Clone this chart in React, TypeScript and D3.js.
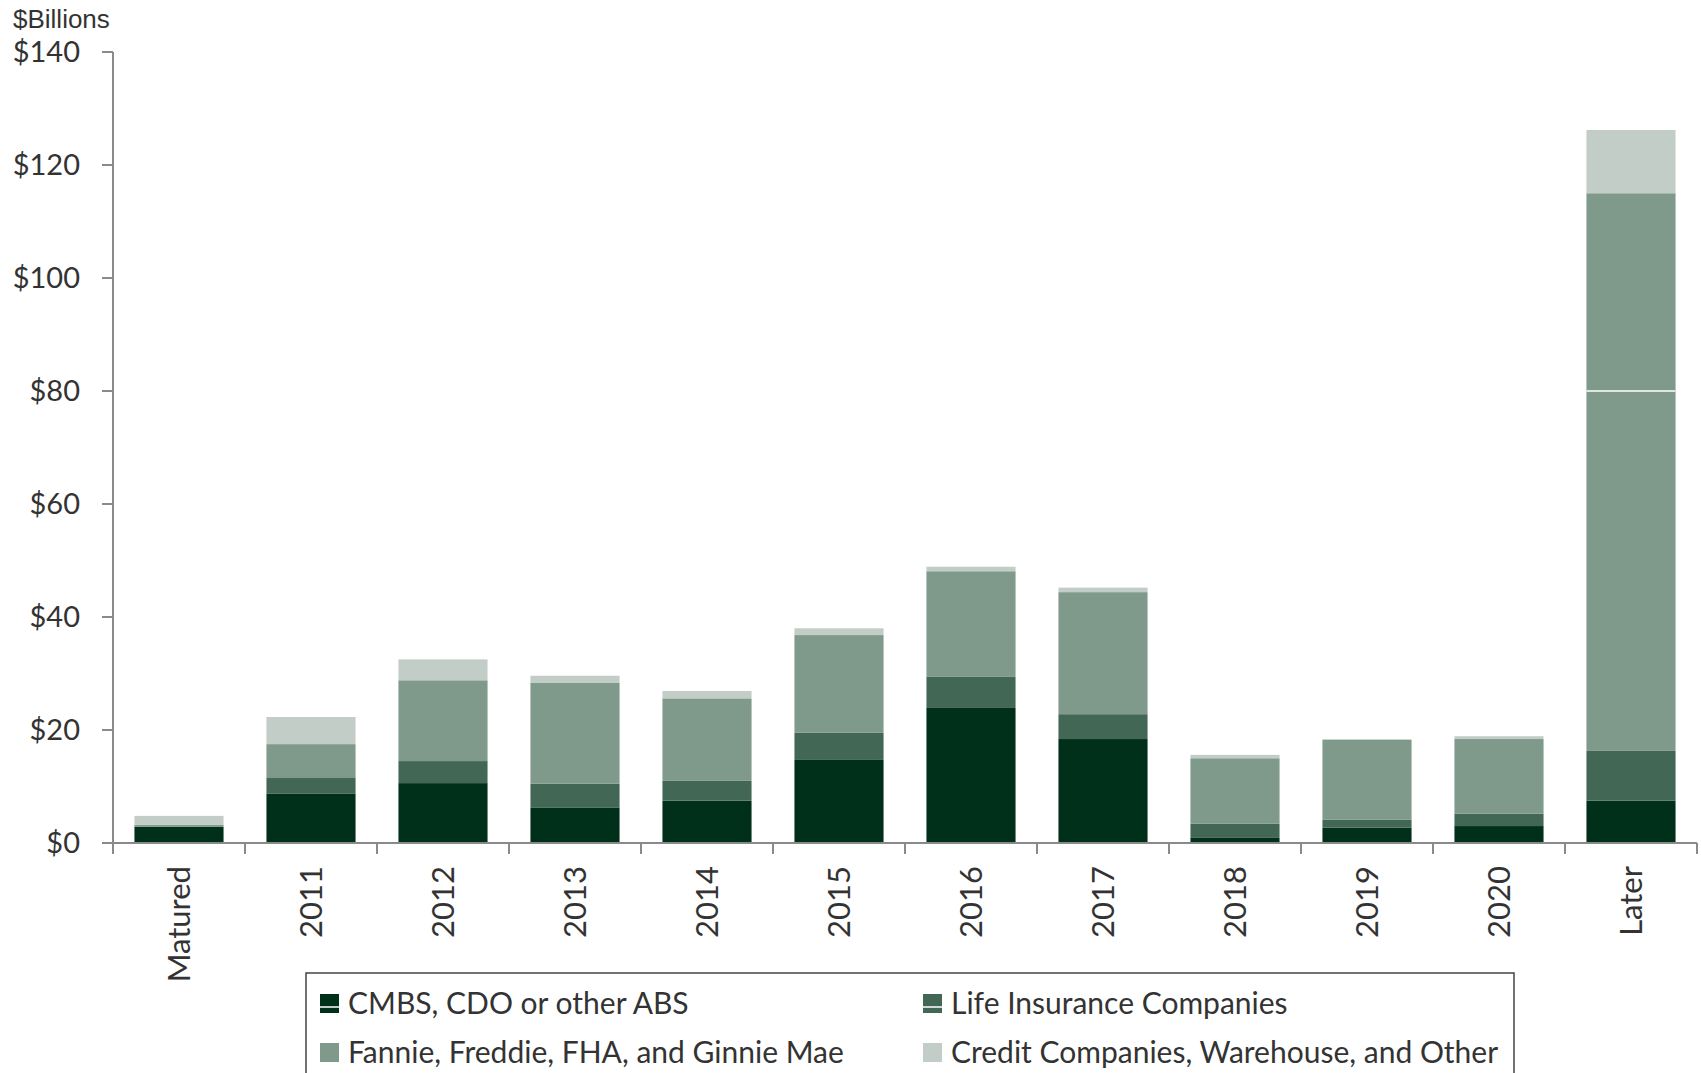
import React from "react";
import * as d3 from "d3";

const categories = ["Matured", "2011", "2012", "2013", "2014", "2015", "2016", "2017", "2018", "2019", "2020", "Later"];
const cmbs = [2.9, 8.7, 10.6, 6.3, 7.5, 14.7, 23.9, 18.4, 0.9, 2.7, 3.0, 7.5];
const lifeIns = [0.0, 2.8, 3.9, 4.2, 3.5, 4.8, 5.5, 4.4, 2.5, 1.4, 2.2, 8.8];
const fannie = [0.3, 6.0, 14.3, 17.9, 14.6, 17.3, 18.7, 21.6, 11.6, 14.2, 13.2, 98.7];
const credit = [1.6, 4.8, 3.7, 1.2, 1.3, 1.2, 0.8, 0.8, 0.6, 0.0, 0.5, 11.2];
const yTicks = [0, 20, 40, 60, 80, 100, 120, 140];
const seriesNames = ["CMBS, CDO or other ABS", "Life Insurance Companies", "Fannie, Freddie, FHA, and Ginnie Mae", "Credit Companies, Warehouse, and Other"];
const seriesColors = ["#01301a", "#436755", "#7f998a", "#c3cdc7"];

export default function App() {
  const W = 1701, H = 1073;
  const x = d3.scaleBand<string>().domain(categories).range([113, 1697]).paddingInner(0.325).paddingOuter(0.1625);
  const y = d3.scaleLinear().domain([0, 140]).range([843, 52]);
  const rows = categories.map((c, i) => ({ cat: c, s0: cmbs[i], s1: lifeIns[i], s2: fannie[i], s3: credit[i] }));
  const stack = d3.stack<any>().keys(["s0", "s1", "s2", "s3"])(rows);
  const step = x.step();
  const axisColor = "#8a8a8a";
  const font = "Lato, 'Open Sans', sans-serif";
  const later = categories[categories.length - 1];
  return (
    <svg width={W} height={H} style={{ position: "absolute", left: 0, top: 0, background: "#fff" }}>
      <text x={13} y={28} fontFamily="'Liberation Sans', Arial, sans-serif" fontSize={26} fill="#333">$Billions</text>
      {stack.map((layer, si) => (
        <g key={si} fill={seriesColors[si]}>
          {layer.map((d, i) => {
            const h = y(d[0]) - y(d[1]);
            if (h <= 0) return null;
            return <rect key={i} x={x(categories[i])} y={y(d[1])} width={x.bandwidth()} height={h} />;
          })}
        </g>
      ))}
      <line x1={x(later)} x2={(x(later) as number) + x.bandwidth()} y1={y(80)} y2={y(80)} stroke="#fff" strokeWidth={1.5} />
      {/* y axis */}
      <line x1={113} x2={113} y1={y(140)} y2={y(0) + 11} stroke={axisColor} strokeWidth={2} />
      {yTicks.map((t) => (
        <g key={t}>
          <line x1={102} x2={113} y1={y(t)} y2={y(t)} stroke={axisColor} strokeWidth={2} />
          <text x={80} y={y(t)} dy="0.35em" textAnchor="end" fontFamily={font} fontSize={29} fill="#333">{"$" + t}</text>
        </g>
      ))}
      {/* x axis */}
      <line x1={113} x2={1697} y1={y(0)} y2={y(0)} stroke={axisColor} strokeWidth={2} />
      {categories.map((c, i) => (
        <line key={c} x1={113 + step * (i + 1)} x2={113 + step * (i + 1)} y1={y(0)} y2={y(0) + 11} stroke={axisColor} strokeWidth={2} />
      ))}
      {categories.map((c) => {
        const cx = (x(c) as number) + x.bandwidth() / 2;
        return (
          <text key={c} transform={`translate(${cx},866) rotate(-90)`} textAnchor="end" dy="0.35em" fontFamily={font} fontSize={31} fill="#333">{c}</text>
        );
      })}
      {/* legend */}
      <rect x={306} y={973} width={1208} height={140} fill="none" stroke="#444" strokeWidth={1.5} />
      {seriesNames.map((n, i) => {
        const lx = i % 2 === 0 ? 320 : 923;
        const ly = i < 2 ? 1003 : 1052;
        return (
          <g key={n}>
            <rect x={lx} y={ly - 9} width={19} height={19} fill={seriesColors[i]} />
            {i < 2 && <line x1={lx} x2={lx + 19} y1={ly + 4} y2={ly + 4} stroke="#fff" strokeWidth={1.5} />}
            <text x={lx + 28} y={ly} dy="0.35em" fontFamily={font} fontSize={30} fill="#333">{n}</text>
          </g>
        );
      })}
    </svg>
  );
}
